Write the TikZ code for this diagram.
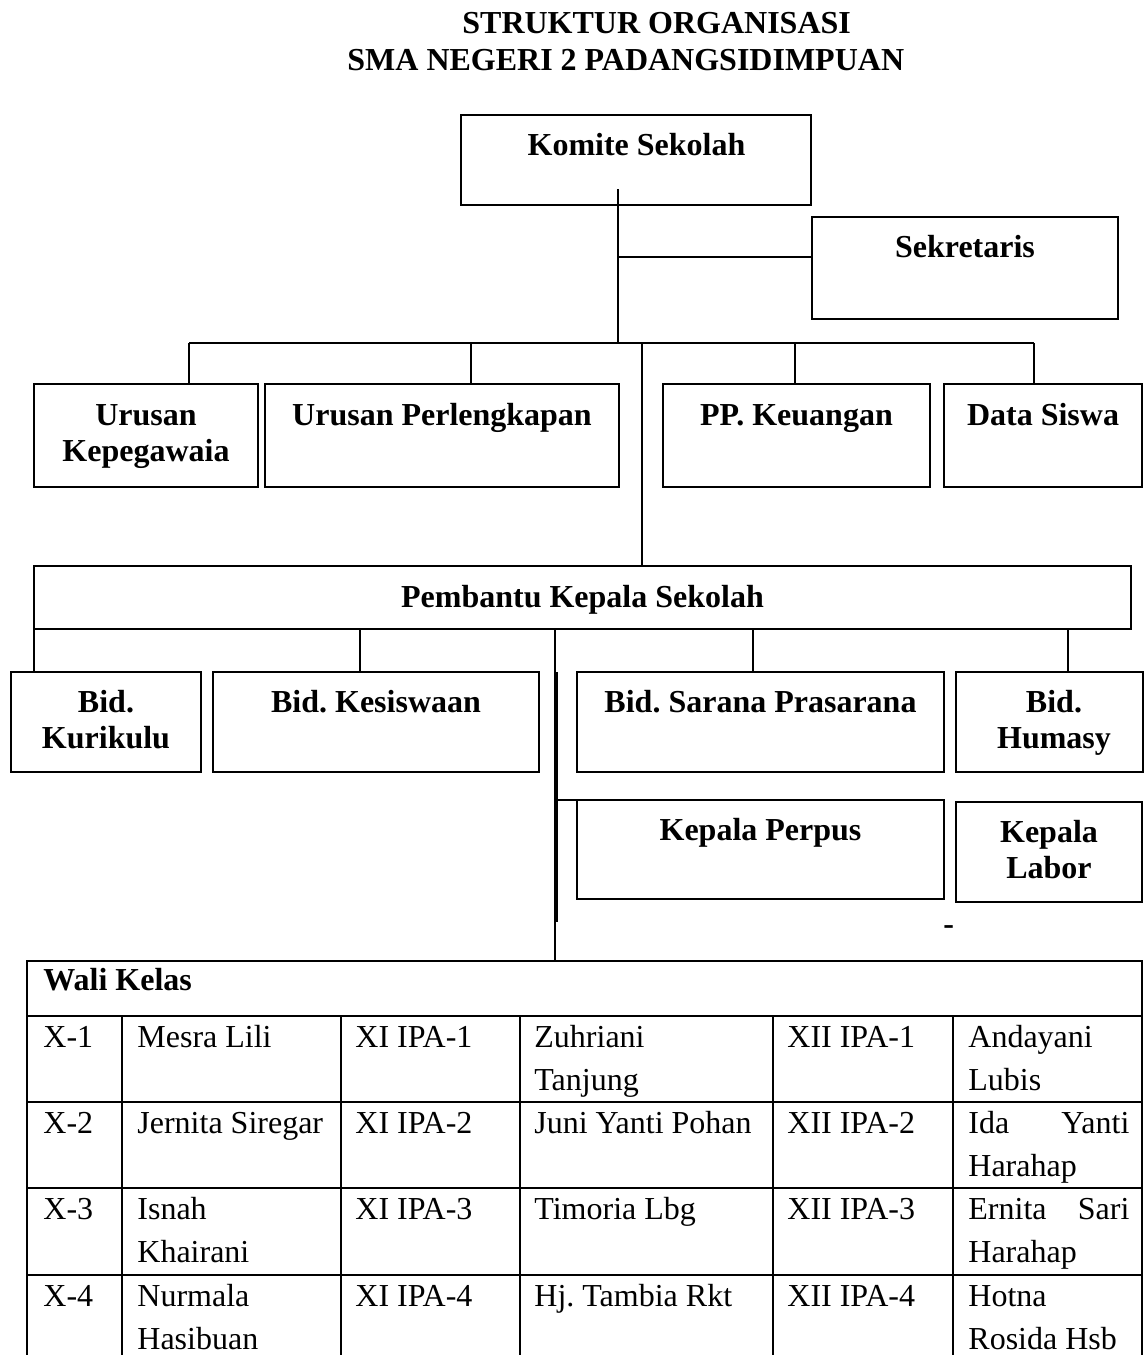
\documentclass[tikz,border=0pt]{standalone}
\usepackage{fontspec}
\setmainfont{Liberation Serif}
\usetikzlibrary{fit}
\frenchspacing
\begin{document}
\begin{tikzpicture}[x=0.5pt,y=-0.5pt,
  box/.style={draw, line width=1.1pt, inner sep=0pt, outer sep=0pt},
  conn/.style={line width=0.6pt},
  thickconn/.style={line width=1.5pt},
  bt/.style={font=\fontsize{16pt}{18pt}\selectfont\bfseries, inner sep=0pt, anchor=base},
  ttl/.style={font=\fontsize{16pt}{18pt}\selectfont\bfseries, inner sep=0pt, anchor=base west},
  tt/.style={font=\fontsize{16pt}{18pt}\selectfont, inner sep=0pt, anchor=base west},
  hline/.style={line width=0.9pt},
  vline/.style={line width=0.6pt}]
\useasboundingbox (0,0) rectangle (1144,1355);
\clip (0,0) rectangle (1144,1355);

% title
\node[ttl] (title1) at (462,33) {STRUKTUR ORGANISASI};
\node[ttl] (title2) at (347,70) {SMA NEGERI 2 PADANGSIDIMPUAN};

% level 1
\node[box, fit={(461,115) (811,205)}] (komite) {};
\node[bt] (tkomite) at (636.5,155) {Komite Sekolah};
\node[box, fit={(812,217) (1118,319)}] (sek) {};
\node[bt] (tsek) at (965,257) {Sekretaris};

% level 2
\node[box, fit={(34,384) (258,487)}] (urk) {};
\node[bt] (turk1) at (146,425) {Urusan};
\node[bt] (turk2) at (146,461) {Kepegawaia};
\node[box, fit={(265,384) (619,487)}] (urp) {};
\node[bt] (turp) at (442,425) {Urusan Perlengkapan};
\node[box, fit={(663,384) (930,487)}] (keu) {};
\node[bt] (tkeu) at (796.5,425) {PP. Keuangan};
\node[box, fit={(944,384) (1142,487)}] (data) {};
\node[bt] (tdata) at (1043,425) {Data Siswa};

% level 3
\node[box, fit={(34,566) (1131,629)}] (pks) {};
\node[bt] (tpks) at (582.5,607) {Pembantu Kepala Sekolah};

% level 4
\node[box, fit={(11,672) (201,772)}] (kur) {};
\node[bt] (tkur1) at (106,712) {Bid.};
\node[bt] (tkur2) at (106,748) {Kurikulu};
\node[box, fit={(213,672) (539,772)}] (kes) {};
\node[bt] (tkes) at (376,712) {Bid. Kesiswaan};
\node[box, fit={(577,672) (944,772)}] (sar) {};
\node[bt] (tsar) at (760.5,712) {Bid. Sarana Prasarana};
\node[box, fit={(956,672) (1143,772)}] (hum) {};
\node[bt] (thum1) at (1054,712) {Bid.};
\node[bt] (thum2) at (1054,748) {Humasy};

% level 5
\node[box, fit={(577,800) (944,899)}] (perpus) {};
\node[bt] (tperpus) at (760.5,840) {Kepala Perpus};
\node[box, fit={(956,802) (1142,902)}] (labor) {};
\node[bt] (tlabor1) at (1049,842) {Kepala};
\node[bt] (tlabor2) at (1049,878) {Labor};
\node[font=\fontsize{16pt}{18pt}\selectfont\bfseries, inner sep=0pt, anchor=base west] (dash) at (943,934) {-};

% table node
\node[inner sep=0pt, outer sep=0pt, fit={(27,961) (1142,1362)}] (wali) {};

% connectors
\coordinate (kstart) at (618,189);
\coordinate (jsek) at (618,257);
\coordinate (bar) at (618,343);
\draw[conn] (kstart) -- (bar);
\draw[conn] (jsek) -- (jsek -| sek.west);
\draw[conn] (189,343) -- (1034,343);
\foreach \xx/\nn in {189/urk, 471/urp, 795/keu, 1034/data}
  \draw[conn] (\xx,343) -- (\xx,343 |- \nn.north);
\draw[conn] (642,343) -- (642,343 |- pks.north);

\foreach \xx/\nn in {34/kur, 360/kes, 753/sar, 1068/hum}
  \draw[conn] (\xx,629 |- pks.south) -- (\xx,672 |- \nn.north);
\coordinate (cdown) at (555,629);
\draw[conn] (cdown) -- (cdown |- wali.north);
\draw[thickconn] (556,672) -- (556,922);
\coordinate (jperpus) at (555,800);
\draw[conn] (jperpus) -- (jperpus -| perpus.west);

% table
\draw[hline] (27,961) rectangle (1142,1362);
\foreach \yy in {1016,1102,1188,1275}
  \draw[hline] (27,\yy) -- (1142,\yy);
\foreach \xx in {122,341,520,773,953}
  \draw[vline] (\xx,1016) -- (\xx,1362);

\node[ttl] (twali) at (43,990) {Wali Kelas};

% row 1
\node[tt] at (43,1047) {X-1};
\node[tt] at (137,1047) {Mesra Lili};
\node[tt] at (355,1047) {XI IPA-1};
\node[tt] at (534,1047) {Zuhriani};
\node[tt] at (534,1090) {Tanjung};
\node[tt] at (787,1047) {XII IPA-1};
\node[tt] at (968,1047) {Andayani};
\node[tt] at (968,1090) {Lubis};
% row 2
\node[tt] at (43,1133) {X-2};
\node[tt] at (137,1133) {Jernita Siregar};
\node[tt] at (355,1133) {XI IPA-2};
\node[tt] at (534,1133) {Juni Yanti Pohan};
\node[tt] at (787,1133) {XII IPA-2};
\node[tt] at (968,1133) {\makebox[80.5pt][l]{Ida\hfill Yanti}};
\node[tt] at (968,1176) {Harahap};
% row 3
\node[tt] at (43,1219) {X-3};
\node[tt] at (137,1219) {Isnah};
\node[tt] at (137,1262) {Khairani};
\node[tt] at (355,1219) {XI IPA-3};
\node[tt] at (534,1219) {Timoria Lbg};
\node[tt] at (787,1219) {XII IPA-3};
\node[tt] at (968,1219) {\makebox[80.5pt][l]{Ernita\hfill Sari}};
\node[tt] at (968,1262) {Harahap};
% row 4
\node[tt] at (43,1306) {X-4};
\node[tt] at (137,1306) {Nurmala};
\node[tt] at (137,1349) {Hasibuan};
\node[tt] at (355,1306) {XI IPA-4};
\node[tt] at (534,1306) {Hj. Tambia Rkt};
\node[tt] at (787,1306) {XII IPA-4};
\node[tt] at (968,1306) {Hotna};
\node[tt] at (968,1349) {Rosida Hsb};
\end{tikzpicture}
\end{document}
